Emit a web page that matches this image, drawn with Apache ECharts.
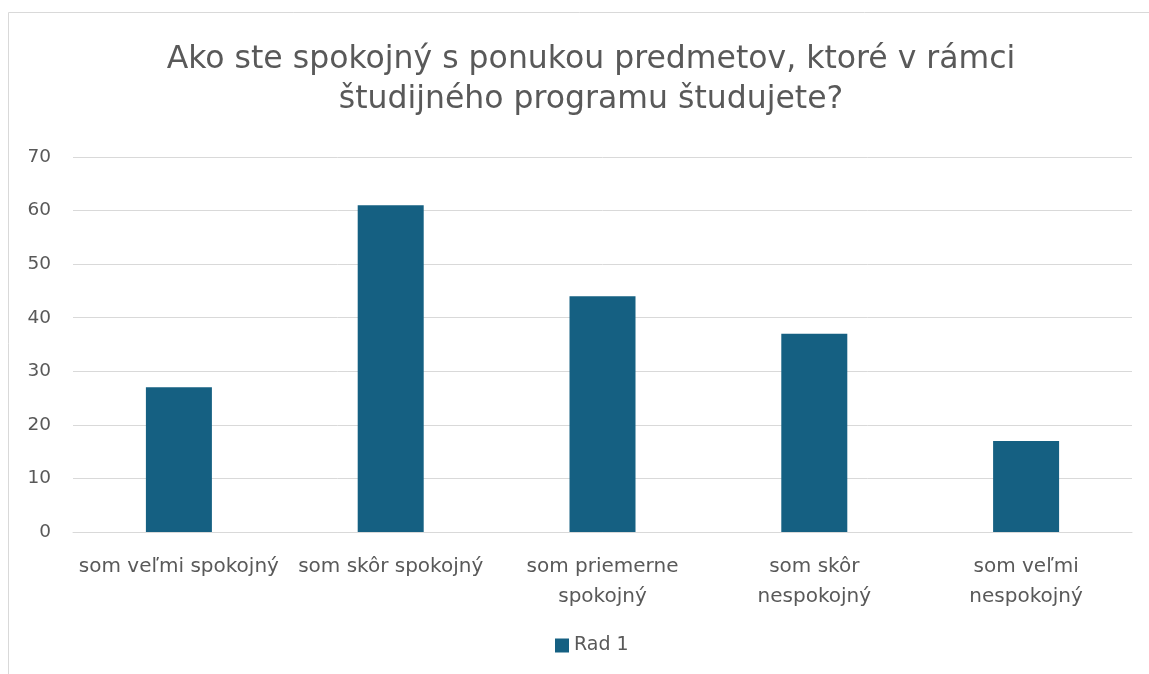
<!DOCTYPE html>
<html><head><meta charset="utf-8">
<script src="https://cdn.jsdelivr.net/npm/echarts@6/dist/echarts.min.js"></script>
<style>html,body{margin:0;padding:0;background:#fff;}#c{width:1149px;height:674px;}</style>
</head><body><div id="c"></div>
<script>
const titleText = 'Ako ste spokojný s ponukou predmetov, ktoré v rámci\nštudijného programu študujete?';
const categories = ['som veľmi spokojný', 'som skôr spokojný', 'som priemerne\nspokojný', 'som skôr\nnespokojný', 'som veľmi\nnespokojný'];
const seriesName = 'Rad 1';
const values = [27, 61, 44, 37, 17];
const yTicks = {min: 0, max: 70, interval: 10};

const chart = echarts.init(document.getElementById('c'));
chart.setOption({
  animation: false,
  textStyle: {fontFamily: 'DejaVu Sans, sans-serif'},
  graphic: [{type: 'rect', shape: {x: 8.5, y: 12.5, width: 1160, height: 700}, style: {fill: 'none', stroke: '#d9d9d9', lineWidth: 1}, silent: true}],
  title: {text: titleText, left: 586, textAlign: 'center', top: 35,
    textStyle: {fontSize: 31.5, fontWeight: 'normal', color: '#595959', lineHeight: 40}},
  grid: {left: 73, right: 17, top: 157, bottom: 142},
  legend: {bottom: 14, left: 550, itemWidth: 14, itemHeight: 14, itemGap: 8,
    textStyle: {fontSize: 19, color: '#595959'}, icon: 'rect', data: [seriesName]},
  xAxis: {type: 'category', data: categories,
    axisLine: {lineStyle: {color: '#d9d9d9', width: 1}}, axisTick: {show: false},
    axisLabel: {fontSize: 20, color: '#595959', margin: 20, lineHeight: 30, interval: 0}},
  yAxis: {type: 'value', min: yTicks.min, max: yTicks.max, interval: yTicks.interval,
    axisLine: {show: false}, axisTick: {show: false},
    splitLine: {lineStyle: {color: '#d9d9d9', width: 1}},
    axisLabel: {fontSize: 18.5, color: '#595959', margin: 22}},
  series: [{name: seriesName, type: 'bar', data: values, barWidth: 66,
    itemStyle: {color: '#156082'}}]
});
</script></body></html>
